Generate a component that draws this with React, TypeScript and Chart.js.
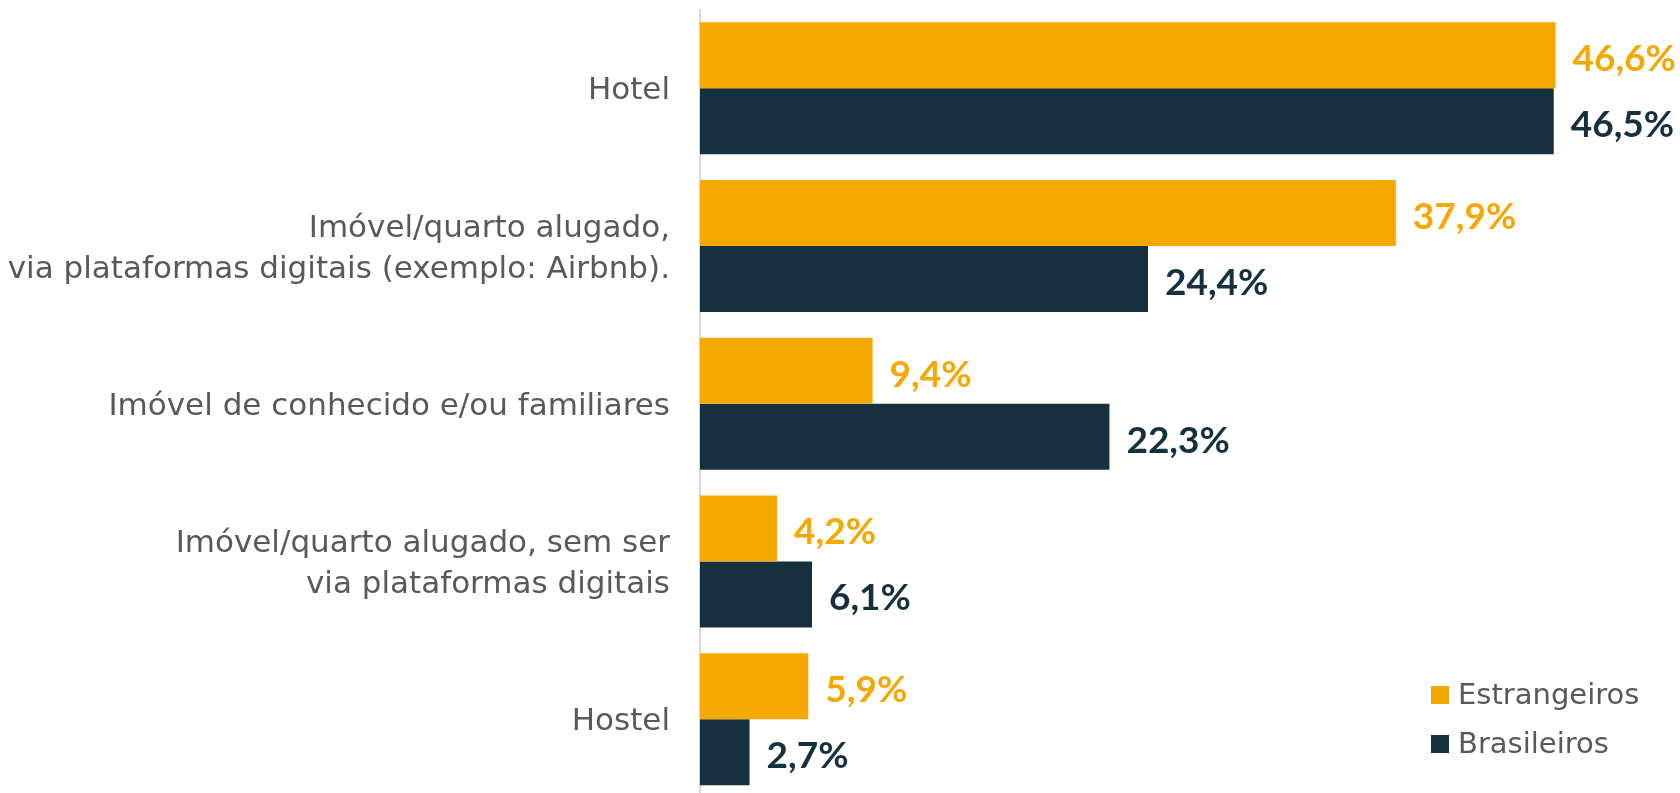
import React, { useEffect, useRef } from "react";
import { Chart, registerables } from "chart.js";

Chart.register(...registerables);

const categories: (string | string[])[] = [
  "Hotel",
  ["Imóvel/quarto alugado,", "via plataformas digitais (exemplo: Airbnb)."],
  "Imóvel de conhecido e/ou familiares",
  ["Imóvel/quarto alugado, sem ser", "via plataformas digitais"],
  "Hostel",
];
const estrangeiros = [46.6, 37.9, 9.4, 4.2, 5.9];
const brasileiros = [46.5, 24.4, 22.3, 6.1, 2.7];
const seriesNames = ["Estrangeiros", "Brasileiros"];

const YELLOW = "#F5A800";
const DARK = "#16303D";
const GRAY = "#595959";
const LABEL_FONT = "'DejaVu Sans', sans-serif";
const VALUE_FONT = "Lato, 'Noto Sans', sans-serif";

const valueLabels = {
  id: "valueLabels",
  afterDatasetsDraw(chart: any) {
    const ctx = chart.ctx;
    ctx.save();
    ctx.font = `bold 37px ${VALUE_FONT}`;
    ctx.textAlign = "left";
    ctx.textBaseline = "middle";
    chart.data.datasets.forEach((ds: any, di: number) => {
      const meta = chart.getDatasetMeta(di);
      ctx.fillStyle = ds.backgroundColor;
      meta.data.forEach((bar: any, i: number) => {
        const v = ds.data[i] as number;
        const txt = v.toFixed(1).replace(".", ",") + "%";
        ctx.fillText(txt, bar.x + 17, bar.y + 4);
      });
    });
    ctx.restore();
  },
};

const customLegend = {
  id: "customLegend",
  afterDraw(chart: any) {
    const ctx = chart.ctx;
    const area = chart.chartArea;
    ctx.save();
    ctx.font = `29px ${LABEL_FONT}`;
    ctx.textBaseline = "middle";
    ctx.textAlign = "left";
    const x0 = area.right - 187;
    const y0 = 695;
    chart.data.datasets.forEach((ds: any, i: number) => {
      const y = y0 + i * 49;
      ctx.fillStyle = ds.backgroundColor;
      ctx.fillRect(x0, y - 9, 18, 18);
      ctx.fillStyle = GRAY;
      ctx.fillText(ds.label, x0 + 27, y + 1);
    });
    ctx.restore();
  },
};

export default function App() {
  const ref = useRef<HTMLCanvasElement>(null);
  useEffect(() => {
    if (!ref.current) return;
    const chart = new Chart(ref.current, {
      type: "bar",
      data: {
        labels: categories as any,
        datasets: [
          {
            label: seriesNames[0],
            data: estrangeiros,
            backgroundColor: YELLOW,
            categoryPercentage: 0.837,
            barPercentage: 1,
          },
          {
            label: seriesNames[1],
            data: brasileiros,
            backgroundColor: DARK,
            categoryPercentage: 0.837,
            barPercentage: 1,
          },
        ],
      },
      options: {
        indexAxis: "y",
        animation: false,
        responsive: false,
        maintainAspectRatio: false,
        layout: { padding: { top: 9.5, bottom: 0, left: 0, right: 62 } },
        plugins: {
          legend: { display: false },
          tooltip: { enabled: false },
        },
        scales: {
          x: { display: false, min: 0, max: 50 },
          y: {
            grid: { display: false, drawTicks: false },
            border: { display: true, color: "#D9D9D9", width: 2 },
            ticks: {
              color: GRAY,
              padding: 30,
              labelOffset: 3,
              font: { family: LABEL_FONT, size: 31, lineHeight: 1.32 },
            },
            afterFit(scale: any) {
              scale.width = 700;
              scale.paddingTop = 0;
              scale.paddingBottom = 0;
            },
          },
        },
      },
      plugins: [valueLabels, customLegend],
    });
    return () => chart.destroy();
  }, []);
  return (
    <div style={{ position: "fixed", left: 0, top: 0, width: 1680, height: 798, background: "#fff" }}>
      <canvas ref={ref} width={1680} height={798} style={{ display: "block", width: 1680, height: 798 }} />
    </div>
  );
}
